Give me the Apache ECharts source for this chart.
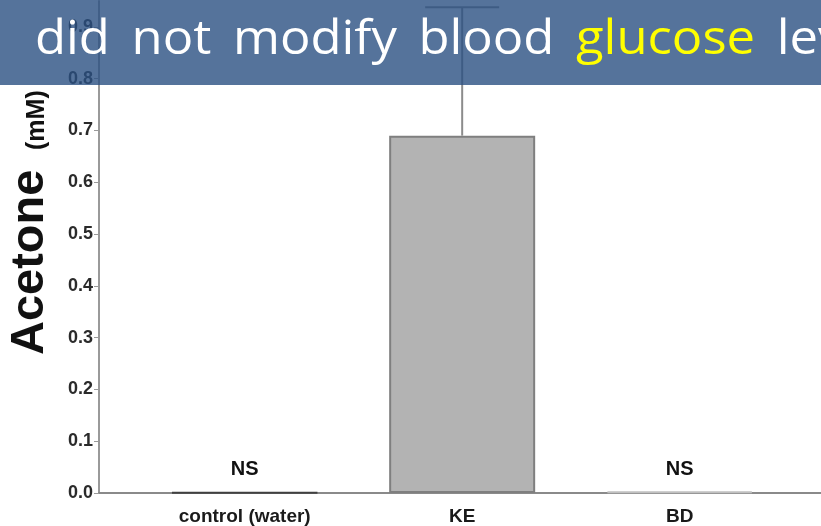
<!DOCTYPE html>
<html>
<head>
<meta charset="utf-8">
<script src="https://cdn.jsdelivr.net/npm/echarts@6/dist/echarts.min.js"></script>
<style>
html, body { margin: 0; padding: 0; background: #fff; }
#chart { width: 821px; height: 526px; }
</style>
</head>
<body>
<div id="chart"></div>
<script>
var categories = ['control (water)', 'KE', 'BD'];
var positions = [1, 2, 3];
var acetone = [0.001, 0.69, 0.003];
var errorTop = [null, 0.938, null];
var sigLabels = ['NS', '', 'NS'];

var chart = echarts.init(document.getElementById('chart'));

var barData = [];
var errData = [];
for (var i = 0; i < categories.length; i++) {
	barData.push({
		value: [positions[i], acetone[i]],
		label: { formatter: sigLabels[i] },
		itemStyle: i == 0 ? { borderColor: '#404040' } : (i == 2 ? { borderColor: '#c0c0c0' } : {})
	});
	if (errorTop[i] != null) {
		errData.push([positions[i], acetone[i], errorTop[i]]);
	}
}

// slide title, wider word gaps like the original
var sp = ' \u2009';
var titleText = 'did' + sp + 'not' + sp + 'modify' + sp + 'blood' + sp + '{y|glucose}' + sp + 'lev';

var option = {
	animation: false,
	grid: { left: 99, right: 0, top: 1, bottom: 33 },
	xAxis: {
		type: 'value',
		min: 0.33,
		max: 3.65,
		splitLine: { show: false },
		axisLine: { lineStyle: { color: '#8a8a8a', width: 2 } },
		axisTick: { show: false },
		axisLabel: {
			customValues: positions,
			formatter: function(v) { return categories[Math.round(v) - 1] || ''; },
			color: '#1a1a1a',
			fontFamily: 'Liberation Sans',
			fontWeight: 'bold',
			fontSize: 19,
			margin: 14
		}
	},
	yAxis: {
		type: 'value',
		min: 0,
		max: 0.95,
		interval: 0.1,
		splitLine: { show: false },
		axisLine: { show: true, lineStyle: { color: '#9a9a9a', width: 2 } },
		axisTick: { show: true, length: 5, lineStyle: { color: '#9a9a9a' } },
		axisLabel: {
			showMaxLabel: false,
			formatter: function(v) { return v.toFixed(1); },
			color: '#2a2a2a',
			fontFamily: 'Liberation Sans',
			fontWeight: 'bold',
			fontSize: 18,
			margin: 6
		}
	},
	series: [
		{
			type: 'bar',
			data: barData,
			barWidth: 146,
			itemStyle: { color: '#b3b3b3', borderColor: '#7f7f7f', borderWidth: 2 },
			label: {
				show: true,
				position: 'top',
				distance: 12,
				color: '#111',
				fontFamily: 'Liberation Sans',
				fontWeight: 'bold',
				fontSize: 20
			}
		},
		{
			type: 'custom',
			z: 1,
			data: errData,
			renderItem: function(params, api) {
				var base = api.coord([api.value(0), api.value(1)]);
				var top = api.coord([api.value(0), api.value(2)]);
				return {
					type: 'group',
					children: [
						{ type: 'line', shape: { x1: base[0], y1: base[1], x2: top[0], y2: top[1] }, style: { stroke: '#8c8c8c', lineWidth: 2 } },
						{ type: 'line', shape: { x1: top[0] - 37, y1: top[1], x2: top[0] + 37, y2: top[1] }, style: { stroke: '#8c8c8c', lineWidth: 2 } }
					]
				};
			}
		}
	],
	graphic: [
		{
			type: 'text',
			x: 30,
			y: 355,
			rotation: Math.PI / 2,
			style: {
				text: 'Acetone',
				align: 'left',
				verticalAlign: 'middle',
				fontFamily: 'Liberation Sans',
				fontWeight: 'bold',
				fontSize: 47,
				fill: '#111'
			}
		},
		{
			type: 'text',
			x: 37,
			y: 150,
			rotation: Math.PI / 2,
			style: {
				text: '(mM)',
				align: 'left',
				verticalAlign: 'middle',
				fontFamily: 'Liberation Sans',
				fontWeight: 'bold',
				fontSize: 25,
				fill: '#111'
			}
		},
		{
			type: 'rect',
			z: 100,
			shape: { x: 0, y: 0, width: 821, height: 85 },
			style: { fill: 'rgba(43,80,130,0.8)' }
		},
		{
			type: 'text',
			z: 101,
			x: 35,
			y: 41,
			scaleX: 1.08,
			style: {
				text: titleText,
				align: 'left',
				verticalAlign: 'middle',
				fill: '#fff',
				fontFamily: 'Open Sans',
				fontSize: 47,
				shadowColor: 'rgba(0,0,0,0.5)',
				shadowOffsetX: 2,
				shadowOffsetY: 2,
				shadowBlur: 3,
				rich: {
					y: { fill: '#ffff00', fontFamily: 'Open Sans', fontSize: 47 }
				}
			}
		}
	]
};
chart.setOption(option);
</script>
</body>
</html>
